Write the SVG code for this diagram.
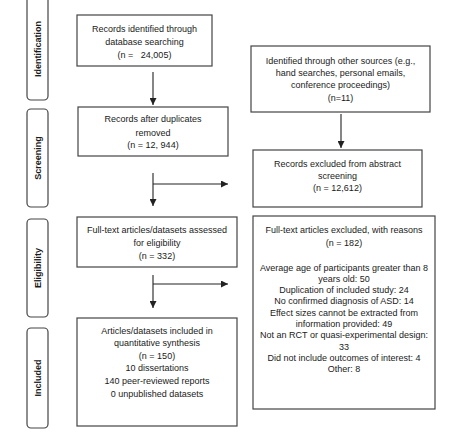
<svg xmlns="http://www.w3.org/2000/svg" width="474" height="432" viewBox="0 0 474 432">
<defs>
<marker id="ah" viewBox="0 0 10 10" refX="10" refY="5" markerWidth="7" markerHeight="7" orient="auto" markerUnits="userSpaceOnUse">
<path d="M0,0 L10,5 L0,10 z" fill="#222"/>
</marker>
<style>
.box{fill:#fff;stroke:#444;stroke-width:1.2}
.side{fill:#fff;stroke:#444;stroke-width:1.2}
.t{font-family:"Liberation Sans",Arial,sans-serif;font-size:9px;fill:#1a1a1a;text-anchor:middle;white-space:pre}
.s{font-family:"Liberation Sans",Arial,sans-serif;font-size:9px;font-weight:bold;fill:#1a1a1a;text-anchor:middle}
.c{fill:none;stroke:#222;stroke-width:1.1}
</style>
</defs>
<rect width="474" height="432" fill="#fff"/>
<g id="phase-identification"><rect class="side" x="27" y="-5" width="21" height="105" rx="4"/><text class="s" transform="translate(41,49) rotate(-90)">Identification</text></g>
<g id="phase-screening"><rect class="side" x="27" y="109" width="21" height="98" rx="4"/><text class="s" transform="translate(41,158) rotate(-90)">Screening</text></g>
<g id="phase-eligibility"><rect class="side" x="27" y="219" width="21" height="98" rx="4"/><text class="s" transform="translate(41,268) rotate(-90)">Eligibility</text></g>
<g id="phase-included"><rect class="side" x="27" y="328" width="21" height="100" rx="4"/><text class="s" transform="translate(41,378) rotate(-90)">Included</text></g>
<g id="db-records"><rect class="box" x="77" y="15" width="135" height="51"/>
<text class="t" x="144.5" y="32">Records identified through</text>
<text class="t" x="144.5" y="45">database searching</text>
<text class="t" x="144.5" y="58" xml:space="preserve">(n =   24,005)</text></g>
<g id="other-sources"><rect class="box" x="251" y="46" width="179" height="66"/>
<text class="t" x="340.5" y="64">Identified through other sources (e.g.,</text>
<text class="t" x="340.5" y="76">hand searches, personal emails,</text>
<text class="t" x="340.5" y="88">conference proceedings)</text>
<text class="t" x="340.5" y="101">(n=11)</text></g>
<g id="after-duplicates"><rect class="box" x="78" y="107" width="150" height="49"/>
<text class="t" x="153" y="122">Records after duplicates</text>
<text class="t" x="153" y="136">removed</text>
<text class="t" x="153" y="148">(n = 12, 944)</text></g>
<g id="excluded-abstract"><rect class="box" x="253" y="150" width="169" height="57"/>
<text class="t" x="337.5" y="167">Records excluded from abstract</text>
<text class="t" x="337.5" y="179">screening</text>
<text class="t" x="337.5" y="191">(n = 12,612)</text></g>
<g id="fulltext-assessed"><rect class="box" x="77" y="217" width="160" height="50"/>
<text class="t" x="157" y="233">Full-text articles/datasets assessed</text>
<text class="t" x="157" y="246">for eligibility</text>
<text class="t" x="157" y="259">(n = 332)</text></g>
<g id="fulltext-excluded"><rect class="box" x="253" y="216" width="182" height="193"/>
<text class="t" x="344" y="233">Full-text articles excluded, with reasons</text>
<text class="t" x="344" y="246">(n = 182)</text>
<text class="t" x="344" y="271">Average age of participants greater than 8</text>
<text class="t" x="344" y="282">years old: 50</text>
<text class="t" x="344" y="293">Duplication of included study: 24</text>
<text class="t" x="344" y="304">No confirmed diagnosis of ASD: 14</text>
<text class="t" x="344" y="316">Effect sizes cannot be extracted from</text>
<text class="t" x="344" y="327">information provided: 49</text>
<text class="t" x="344" y="338">Not an RCT or quasi-experimental design:</text>
<text class="t" x="344" y="350">33</text>
<text class="t" x="344" y="361">Did not include outcomes of interest: 4</text>
<text class="t" x="344" y="372">Other: 8</text></g>
<g id="included"><rect class="box" x="77" y="318" width="160" height="108"/>
<text class="t" x="157" y="334">Articles/datasets included in</text>
<text class="t" x="157" y="346">quantitative synthesis</text>
<text class="t" x="157" y="359">(n = 150)</text>
<text class="t" x="157" y="371">10 dissertations</text>
<text class="t" x="157" y="384">140 peer-reviewed reports</text>
<text class="t" x="157" y="397">0 unpublished datasets</text></g>
<g id="connectors">
<line class="c" x1="153" y1="72" x2="153" y2="105" marker-end="url(#ah)"/>
<line class="c" x1="341" y1="114" x2="341" y2="148" marker-end="url(#ah)"/>
<line class="c" x1="153" y1="173" x2="153" y2="206" marker-end="url(#ah)"/>
<line class="c" x1="153" y1="184" x2="228" y2="184" marker-end="url(#ah)"/>
<line class="c" x1="153" y1="275" x2="153" y2="308" marker-end="url(#ah)"/>
<line class="c" x1="153" y1="284" x2="228" y2="284" marker-end="url(#ah)"/>
</g>
</svg>
